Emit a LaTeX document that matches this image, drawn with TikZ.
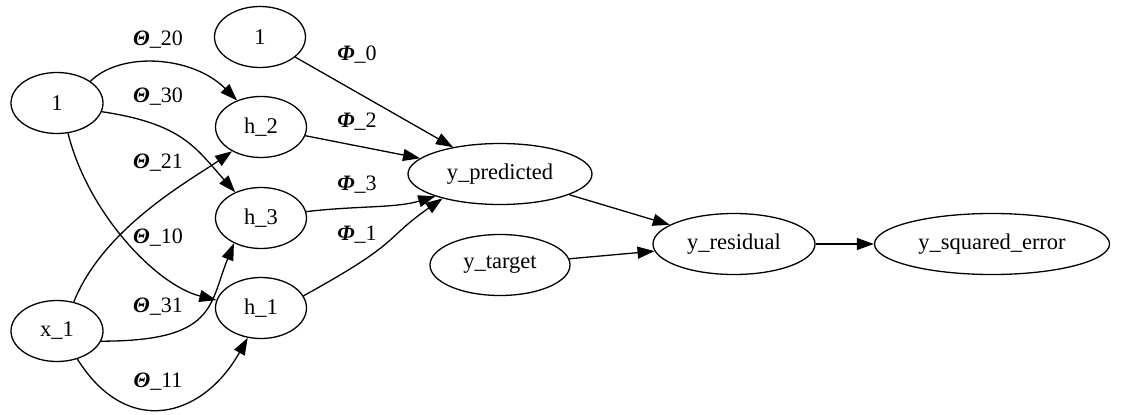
\documentclass[tikz,border=0pt]{standalone}
\usepackage{fontspec}
\setmainfont{Liberation Serif}
\usetikzlibrary{shapes.geometric,arrows.meta}
\newcommand\wsym[1]{{\bfseries\itshape #1}}
\begin{document}
\begin{tikzpicture}[x=1pt,y=1pt,
  nd/.style={draw, ellipse, line width=1.3pt, inner sep=0pt, minimum height=61pt,
             font=\fontsize{22.5}{24}\selectfont},
  ed/.style={line width=1.3pt, -{Triangle[length=17pt,width=12pt]}},
  lab/.style={font=\fontsize{22}{24}\selectfont, inner sep=0pt}]
\useasboundingbox (0,0) rectangle (1136,-415);

% input layer
\node[nd, minimum width=92pt] (one)  at (57,-103) {1};
\node[nd, minimum width=92pt] (x1)   at (57,-331) {x\_1};
% hidden layer and its bias
\node[nd, minimum width=91pt] (bias) at (260,-37) {1};
\node[nd, minimum width=91pt] (h2)   at (261,-127) {h\_2};
\node[nd, minimum width=91pt] (h3)   at (261,-218) {h\_3};
\node[nd, minimum width=91pt] (h1)   at (261,-308) {h\_1};
% output and loss
\node[nd, minimum width=184pt] (yp)  at (500,-174) {y\_predicted};
\node[nd, minimum width=140pt] (yt)  at (500,-265) {y\_target};
\node[nd, minimum width=162pt] (yr)  at (734,-244) {y\_residual};
\node[nd, minimum width=235pt] (yse) at (992,-244) {y\_squared\_error};

% input -> hidden weights
\draw[ed] (one.33)  .. controls +(30,30) and +(-45,45) .. (h2.132);
\draw[ed] (one.-11) .. controls +(80,-12) and +(-40,45) .. (h3.135);
\draw[ed] (one.-70) .. controls +(20,-80) and +(-60,15) .. (h1.170);
\draw[ed] (x1.60)   .. controls +(30,75) and +(-40,-28) .. (h2.220);
\draw[ed] (x1.-13)  .. controls +(115,0) and +(-25,-62) .. (h3.223);
\draw[ed] (x1.-54)  .. controls +(50,-80) and +(-45,-80) .. (h1.246);

% hidden -> output weights
\draw[ed] (bias) -- (yp);
\draw[ed] (h2) -- (yp);
\draw[ed] (h3.8) .. controls +(50,6) and +(-40,-12) .. (yp.199);
\draw[ed] (h1.16) .. controls +(100,55) and +(-60,-42) .. (yp.203);

% loss
\draw[ed] (yp) -- (yr);
\draw[ed] (yt) -- (yr);
\draw[ed] (yr) -- (yse);

% weight labels
\node[lab] (t20) at (158,-40)  {\wsym{Θ}\_20};
\node[lab] (t30) at (158,-97)  {\wsym{Θ}\_30};
\node[lab] (t21) at (158,-163) {\wsym{Θ}\_21};
\node[lab] (t10) at (158,-238) {\wsym{Θ}\_10};
\node[lab] (t31) at (158,-307) {\wsym{Θ}\_31};
\node[lab] (t11) at (158,-382) {\wsym{Θ}\_11};
\node[lab] (p0) at (357,-55)  {\wsym{Φ}\_0};
\node[lab] (p2) at (357,-122) {\wsym{Φ}\_2};
\node[lab] (p3) at (357,-185) {\wsym{Φ}\_3};
\node[lab] (p1) at (357,-235) {\wsym{Φ}\_1};
\end{tikzpicture}
\end{document}
